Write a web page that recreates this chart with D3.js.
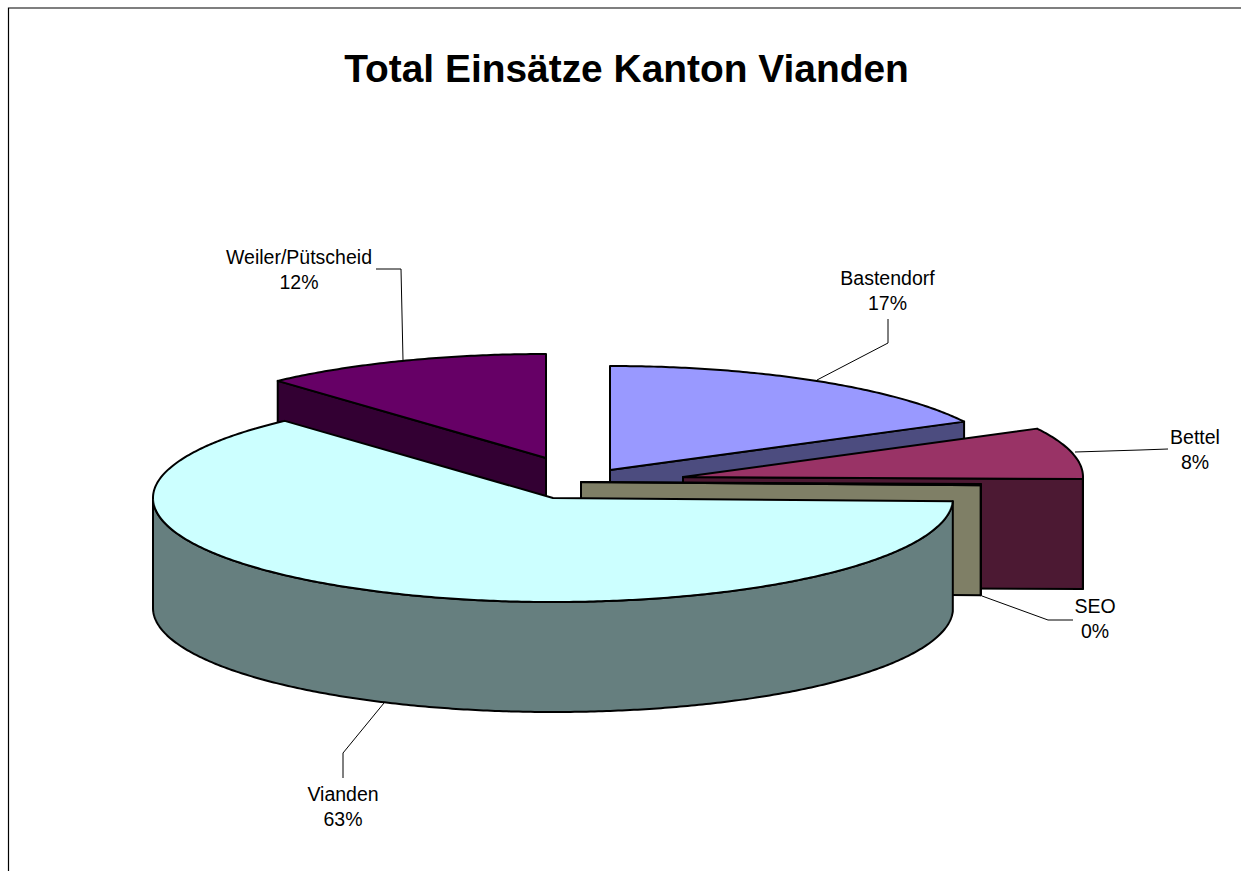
<!DOCTYPE html>
<html><head><meta charset="utf-8">
<style>html,body{margin:0;padding:0;background:#fff;overflow:hidden}svg{display:block}text{font-family:"Liberation Sans",Arial,sans-serif;fill:#000}</style>
<script src="https://cdn.jsdelivr.net/npm/d3@7"></script></head><body><div id="c"></div>
<script>
// Data, clockwise from 12 o'clock
const categories = ["Bastendorf","Bettel","SEO","Vianden","Weiler/Pütscheid"];
const values = [17.3, 8.0, 0.2, 62.8, 11.7];
const chartTitle = "Total Einsätze Kanton Vianden";

// Styling & layout
const W=1241,H=871,RX=400,RY=104,DEPTH=110;
const apexX=[610,683,581,553,546], apexY=[470,477,482,498,458];
const topColor=["#9999ff","#993366","#ffffcc","#ccffff","#660066"];
const wallColor=["#4c4c7f","#4c1933","#7f7f66","#667f7f","#330033"];
const drawOrder=[4,0,1,2,3];
const labelX=[887.5,1195,1095,343,299], labelY=[285,444,613,801,264];
const leaders=[[[817,380],[888,343],[888,319]],[[1075,452],[1140,450],[1168,449]],[[982,596],[1048,620],[1073,620]],[[384,703],[343,753],[343,778]],[[403,360],[401,269],[376,269]]];

const svg=d3.select("#c").append("svg").attr("width",W).attr("height",H);
svg.append("rect").attr("width",W).attr("height",H).attr("fill","#fff");
svg.append("path").attr("d","M8.5,"+H+"V8H"+W).attr("fill","none").attr("stroke","#000").attr("stroke-width",1.2);
svg.append("text").attr("x",626.5).attr("y",82).attr("text-anchor","middle").attr("font-size",38.9).attr("font-weight","bold").text(chartTitle);

const arcs=d3.pie().sort(null)(values);
const sx=d3.scaleLinear().domain([-1,1]).range([-RX,RX]);
const sy=d3.scaleLinear().domain([-1,1]).range([RY,-RY]);
const pt=(i,t,dz=0)=>[apexX[i]+sx(Math.sin(t)),apexY[i]+sy(Math.cos(t))+dz];
const rim=(i,a,b,dz=0)=>{const n=Math.max(2,Math.ceil(Math.abs(b-a)/0.01));return d3.range(n+1).map(k=>pt(i,a+(b-a)*k/n,dz));};
const line=d3.line();
const style=(p,fill)=>p.attr("fill",fill).attr("stroke","#000").attr("stroke-width",2).attr("stroke-linejoin","round");

const g=svg.append("g");
drawOrder.forEach(i=>{
  const a=arcs[i], A=[apexX[i],apexY[i]];
  // cut faces that look toward the viewer
  [[a.startAngle,-1],[a.endAngle,1]].forEach(([t,side])=>{
    if(Math.sin(t)*side>1e-9){
      const P=pt(i,t);
      style(g.append("path").attr("d",line([A,P,[P[0],P[1]+DEPTH],[A[0],A[1]+DEPTH]])+"Z"),wallColor[i]);
    }
  });
  // outer wall, front half only
  const lo=Math.max(a.startAngle,Math.PI/2), hi=Math.min(a.endAngle,Math.PI*1.5);
  if(hi>lo){
    const up=rim(i,lo,hi), down=rim(i,hi,lo,DEPTH);
    style(g.append("path").attr("d",line(up.concat(down))+"Z"),wallColor[i]);
  }
  // top
  style(g.append("path").attr("d",line([A].concat(rim(i,a.startAngle,a.endAngle)))+"Z"),topColor[i]);
});

categories.forEach((c,i)=>{
  svg.append("path").attr("d",line(leaders[i])).attr("fill","none").attr("stroke","#000").attr("stroke-width",1);
  const t=svg.append("text").attr("text-anchor","middle").attr("font-size",19.5).attr("x",labelX[i]).attr("y",labelY[i]);
  t.append("tspan").attr("x",labelX[i]).text(c);
  t.append("tspan").attr("x",labelX[i]).attr("dy",25).text(Math.round(values[i])+"%");
});
</script></body></html>
